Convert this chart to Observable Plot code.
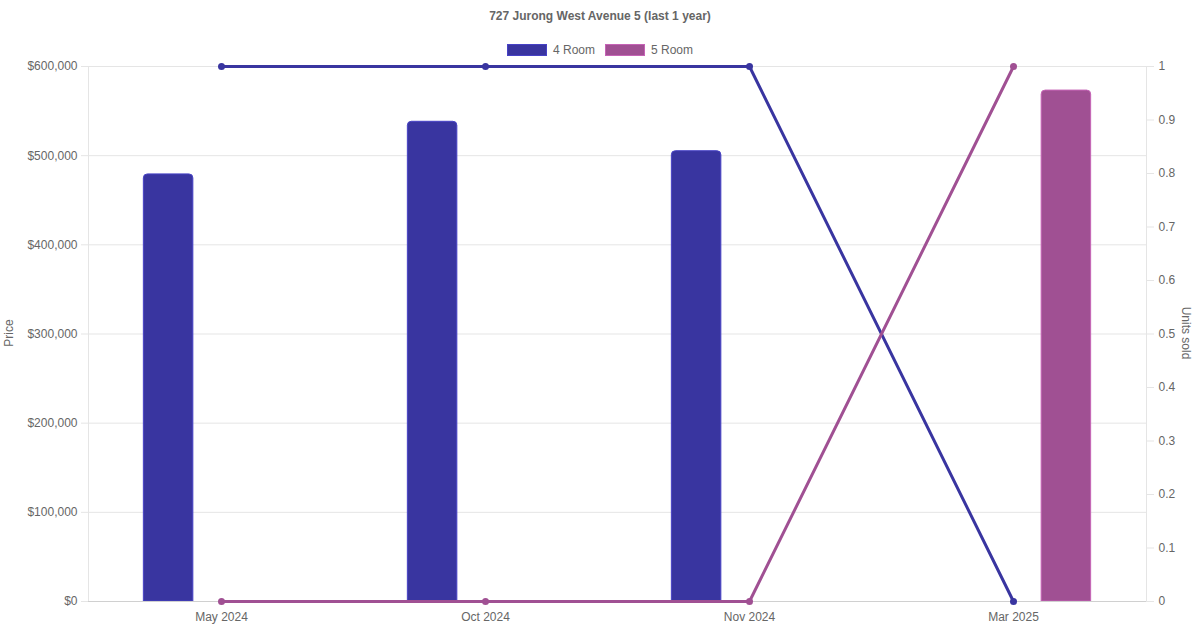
<!DOCTYPE html>
<html>
<head>
<meta charset="utf-8">
<script src="https://cdn.jsdelivr.net/npm/d3@7"></script>
<script src="https://cdn.jsdelivr.net/npm/@observablehq/plot@0.6"></script>
<style>
  html, body { margin: 0; padding: 0; background: #fff; }
  body { font-family: "Liberation Sans", Arial, sans-serif; }
  #wrap { position: relative; width: 1200px; height: 630px; overflow: hidden; }
  #chart { position: absolute; left: 0; top: 0; }
  #title { position: absolute; left: 0; width: 1200px; top: 9px; text-align: center; font-weight: bold; font-size: 12px; color: #666; }
  #legend { position: absolute; left: 0; width: 1200px; top: 43px; display: flex; justify-content: center; gap: 10px; font-size: 12px; color: #666; }
  .item { display: flex; align-items: center; }
  .sw { width: 38px; height: 10px; margin-right: 6px; }
  .ylab { position: absolute; font-size: 12px; color: #666; white-space: nowrap; }
</style>
</head>
<body>
<div id="wrap">
  <div id="chart"></div>
  <div id="title">727 Jurong West Avenue 5 (last 1 year)</div>
  <div id="legend"></div>
  <div class="ylab" id="ylLeft" style="left:-5px; top:326px; transform: rotate(-90deg);">Price</div>
  <div class="ylab" id="ylRight" style="left:1160px; top:326px; transform: rotate(90deg);">Units sold</div>
</div>
<script>
const months = ["May 2024", "Oct 2024", "Nov 2024", "Mar 2025"];
const series = ["4 Room", "5 Room"];
const colors = ["#3935a0", "#a05093"];
const price4Room = [479000, 538000, 505000, null];
const price5Room = [null, null, null, 573000];
const units4Room = [1, 1, 1, 0];
const units5Room = [0, 0, 0, 1];
const priceTicks = [0, 100000, 200000, 300000, 400000, 500000, 600000];
const unitTicks = [0, 0.1, 0.2, 0.3, 0.4, 0.5, 0.6, 0.7, 0.8, 0.9, 1];

const W = 1200, H = 630, ML = 88, MR = 54, MT = 66, MB = 29;
const priceMax = 600000;
const unitMax = 1;
const k = priceMax / unitMax;

const prices = [price4Room, price5Room];
const units = [units4Room, units5Room];

const bars = [];
const lines = [];
series.forEach((s, si) => {
  months.forEach((m, mi) => {
    if (prices[si][mi] != null) bars.push({month: m, series: s, price: prices[si][mi]});
    lines.push({month: m, series: s, units: units[si][mi]});
  });
});

const bw = (W - ML - MR) / months.length;
const off = bw * 0.8 / 4;
const barW = 50;
const innerL = bw / 2 - off - barW / 2;
const innerR = bw - innerL - barW;

const gridColor = "#e5e5e5";
const textColor = "#666";

const barMark = (s, si) => Plot.barY(bars.filter(d => d.series === s), {
  x: "month", y: "price",
  fill: colors[si], stroke: d3.color(colors[si]).brighter(0.6).formatHex(), strokeWidth: 1,
  insetLeft: si === 0 ? innerL : innerR,
  insetRight: si === 0 ? innerR : innerL,
  ry1: 4
});

const chart = Plot.plot({
  width: W, height: H,
  marginLeft: ML, marginRight: MR, marginTop: MT, marginBottom: MB,
  style: {fontFamily: "Liberation Sans, Arial, sans-serif", fontSize: "12px", color: textColor, background: "#fff"},
  x: {type: "band", domain: months, padding: 0, label: null},
  y: {domain: [0, priceMax], label: null},
  marks: [
    Plot.gridY(priceTicks, {stroke: gridColor, strokeOpacity: 1}),
    Plot.frame({stroke: gridColor, strokeOpacity: 1}),
    Plot.axisY(priceTicks, {
      anchor: "left", tickSize: 7, tickPadding: 4, stroke: gridColor, strokeOpacity: 1, fill: textColor,
      tickFormat: d => "$" + d3.format(",")(d), label: null, fontSize: 12
    }),
    Plot.axisY(unitTicks.map(t => t * k), {
      anchor: "right", tickSize: 7, tickPadding: 5, stroke: gridColor, strokeOpacity: 1, fill: textColor,
      tickFormat: d => d3.format("~g")(+(d / k).toFixed(2)), label: null, fontSize: 12
    }),
    Plot.axisX({tickSize: 0, tickPadding: 11, fill: textColor, label: null, fontSize: 12}),
    ...series.map((s, si) => barMark(s, si)),
    Plot.ruleY([0], {stroke: "#d0d0d0"}),
    ...series.map((s, si) => Plot.line(lines.filter(d => d.series === s), {
      x: "month", y: d => d.units * k, stroke: colors[si], strokeWidth: 3
    })),
    ...series.map((s, si) => Plot.dot(lines.filter(d => d.series === s), {
      x: "month", y: d => d.units * k, fill: colors[si], r: 3.5
    }))
  ]
});
document.getElementById("chart").appendChild(chart);

const legend = document.getElementById("legend");
series.forEach((s, si) => {
  const it = document.createElement("div");
  it.className = "item";
  const sw = document.createElement("div");
  sw.className = "sw";
  sw.style.background = colors[si];
  sw.style.border = "1px solid " + d3.color(colors[si]).brighter(0.6).formatHex();
  const t = document.createElement("span");
  t.textContent = s;
  it.appendChild(sw); it.appendChild(t);
  legend.appendChild(it);
});
</script>
</body>
</html>
